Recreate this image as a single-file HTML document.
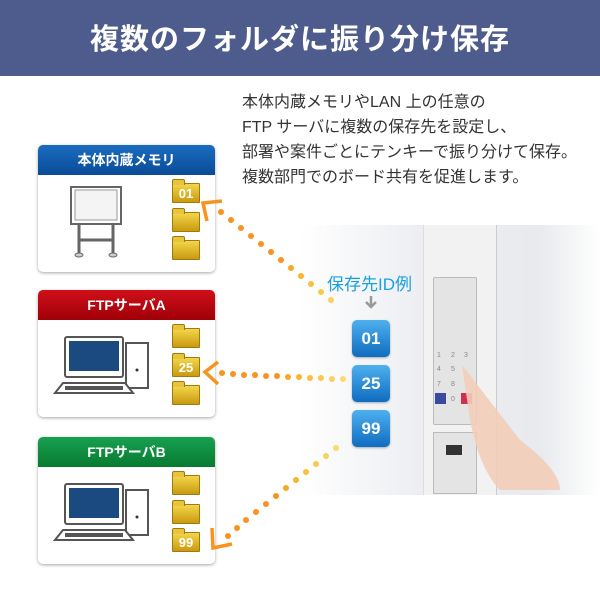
<!DOCTYPE html><html><head><meta charset="utf-8"><style>
body{margin:0;width:600px;height:600px;position:relative;background:#fff;font-family:"Liberation Sans","Noto Sans CJK JP",sans-serif;overflow:hidden}
.hd{position:absolute;left:0;top:0;width:600px;height:76px;background:#4e5c8d;color:#fff;font-size:29px;font-weight:bold;text-align:center;line-height:80px;letter-spacing:1px}
.p{position:absolute;left:242px;top:90px;font-size:16px;line-height:25px;color:#333;white-space:nowrap}
.box{position:absolute;left:38px;width:177px;height:127px;background:#fff;border-radius:5px;box-shadow:0 1px 3px rgba(0,0,0,.35);overflow:hidden}
.box .t{height:30px;color:#fff;font-size:14px;font-weight:bold;text-align:center;line-height:31px}
.f{position:absolute;left:134px;width:26px;height:18px;background:linear-gradient(#f3d64a,#c99a10);border:1px solid #a07a10;border-radius:1px;color:#fff;font-weight:bold;font-size:13px;text-align:center;line-height:19px}
.f:before{content:"";position:absolute;left:-1px;top:-5px;width:11px;height:5px;background:#e8c43a;border:1px solid #a07a10;border-bottom:0;border-radius:2px 2px 0 0}
.b{position:absolute;left:352px;width:38px;height:37px;border-radius:5px;background:linear-gradient(#4fb0ee,#0f6cc0);color:#fff;font-weight:bold;font-size:17px;text-align:center;line-height:37px;box-shadow:0 1px 2px rgba(0,0,0,.3)}
</style></head><body>
<div class="hd">複数のフォルダに振り分け保存</div>
<div class="p">本体内蔵メモリやLAN 上の任意の<br>FTP サーバに複数の保存先を設定し、<br>部署や案件ごとにテンキーで振り分けて保存。<br>複数部門でのボード共有を促進します。</div>
<div style="position:absolute;left:300px;top:225px;width:300px;height:270px;background:linear-gradient(90deg,#fff,#eceef2 40%,#e8eaee 80%,#fff);"></div>
<div style="position:absolute;left:423px;top:225px;width:72px;height:270px;background:#f2f2f2;border-left:1px solid #ddd;border-right:1px solid #ccc"></div>
<div style="position:absolute;left:433px;top:277px;width:42px;height:146px;background:#e4e4e4;border:1px solid #bbb;border-radius:2px"></div>
<div style="position:absolute;left:433px;top:432px;width:42px;height:60px;background:#e4e4e4;border:1px solid #bbb"></div>
<div style="position:absolute;left:446px;top:445px;width:16px;height:10px;background:#333"></div>
<div style="position:absolute;left:435px;top:393px;width:11px;height:11px;background:#3a4aa0"></div>
<div style="position:absolute;left:461px;top:393px;width:11px;height:11px;background:#d03050"></div>
<svg style="position:absolute;left:0;top:0" width="600" height="600">
<path d="M462 365 L520 440 Q560 470 560 490 L500 490 Q480 470 470 420Z" fill="#f2cdb8" opacity=".9"/>
<g fill="#888" font-size="7">
<text x="437" y="357">1</text><text x="451" y="357">2</text><text x="464" y="357">3</text>
<text x="437" y="371">4</text><text x="451" y="371">5</text><text x="437" y="386">7</text><text x="451" y="386">8</text><text x="451" y="401">0</text></g>
</svg>
<div style="position:absolute;left:327px;top:270px;font-size:17px;color:#1aa0e0">保存先ID例</div>
<div class="b" style="top:320px">01</div><div class="b" style="top:365px">25</div><div class="b" style="top:410px">99</div>

<div class="box" style="top:145px"><div class="t" style="background:linear-gradient(#1a6cc0,#0a4c98)">本体内蔵メモリ</div>
<svg style="position:absolute;left:30px;top:40px" width="70" height="75"><rect x="3" y="2" width="50" height="37" fill="#fff" stroke="#666" stroke-width="2"/><rect x="7" y="5" width="42" height="30" fill="#f4f4f4" stroke="#999"/><path d="M11 39v30M45 39v30M11 55h34" stroke="#666" stroke-width="3"/><ellipse cx="11" cy="70" rx="4" ry="2" fill="#ccc" stroke="#666"/><ellipse cx="45" cy="70" rx="4" ry="2" fill="#ccc" stroke="#666"/></svg>
<div class="f" style="top:38px">01</div><div class="f" style="top:67px"></div><div class="f" style="top:95px"></div></div>

<div class="box" style="top:290px"><div class="t" style="background:linear-gradient(#d0101a,#a00008)">FTPサーバA</div>
<svg style="position:absolute;left:15px;top:45px" width="110" height="65"><rect x="12" y="2" width="58" height="40" rx="2" fill="#fff" stroke="#555" stroke-width="2"/><rect x="16" y="6" width="50" height="30" fill="#1a4a80"/><rect x="73" y="8" width="22" height="45" fill="#fff" stroke="#555" stroke-width="2"/><circle cx="84" cy="35" r="1.5" fill="#333"/><path d="M10 48h62l8 10H2z" fill="#fff" stroke="#555" stroke-width="2"/><rect x="12" y="51" width="58" height="4" fill="#555"/></svg>
<div class="f" style="top:38px"></div><div class="f" style="top:67px">25</div><div class="f" style="top:95px"></div></div>

<div class="box" style="top:437px"><div class="t" style="background:linear-gradient(#18a050,#087a30)">FTPサーバB</div>
<svg style="position:absolute;left:15px;top:45px" width="110" height="65"><rect x="12" y="2" width="58" height="40" rx="2" fill="#fff" stroke="#555" stroke-width="2"/><rect x="16" y="6" width="50" height="30" fill="#1a4a80"/><rect x="73" y="8" width="22" height="45" fill="#fff" stroke="#555" stroke-width="2"/><circle cx="84" cy="35" r="1.5" fill="#333"/><path d="M10 48h62l8 10H2z" fill="#fff" stroke="#555" stroke-width="2"/><rect x="12" y="51" width="58" height="4" fill="#555"/></svg>
<div class="f" style="top:38px"></div><div class="f" style="top:67px"></div><div class="f" style="top:95px">99</div></div>

<svg style="position:absolute;left:0;top:0" width="600" height="600">
<g fill="#f7931e">
<circle cx="221" cy="212" r="3"/><circle cx="231" cy="220" r="3"/><circle cx="241" cy="228" r="3"/><circle cx="251" cy="236" r="3"/><circle cx="261" cy="244" r="3"/><circle cx="271" cy="252" r="3"/><circle cx="281" cy="260" r="3"/><circle cx="291" cy="268" r="3" fill="#f9a826"/><circle cx="301" cy="276" r="3" fill="#fab52e"/><circle cx="311" cy="284" r="3" fill="#fbc03a"/><circle cx="321" cy="292" r="3" fill="#fcc84a"/><circle cx="331" cy="300" r="3" fill="#fdd060"/>
<circle cx="222" cy="373" r="3"/><circle cx="233" cy="374" r="3"/><circle cx="244" cy="375" r="3"/><circle cx="255" cy="375" r="3"/><circle cx="266" cy="376" r="3"/><circle cx="277" cy="376" r="3"/><circle cx="288" cy="377" r="3" fill="#f9a826"/><circle cx="299" cy="377" r="3" fill="#fab52e"/><circle cx="310" cy="378" r="3" fill="#fbc03a"/><circle cx="321" cy="378" r="3" fill="#fcc84a"/><circle cx="332" cy="379" r="3" fill="#fdd060"/><circle cx="343" cy="379" r="3" fill="#fdd870"/>
<circle cx="228" cy="536" r="3"/><circle cx="237" cy="528" r="3"/><circle cx="246" cy="520" r="3"/><circle cx="256" cy="512" r="3"/><circle cx="266" cy="504" r="3"/><circle cx="276" cy="496" r="3"/><circle cx="286" cy="488" r="3" fill="#f9a826"/><circle cx="296" cy="480" r="3" fill="#fab52e"/><circle cx="306" cy="472" r="3" fill="#fbc03a"/><circle cx="316" cy="464" r="3" fill="#fcc84a"/><circle cx="326" cy="456" r="3" fill="#fdd060"/><circle cx="336" cy="448" r="3" fill="#fdd870"/></g>
<g fill="none" stroke="#f7931e" stroke-width="3.5"><path d="M222 201 L203 203 L207 221"/><path d="M218 362 L205 372 L218 384"/><path d="M212 528 L213 548 L232 544"/></g>
<path d="M371 296 v10 M366 302 l5 5 5-5" stroke="#999" stroke-width="2.5" fill="none"/>
</svg>
</body></html>
